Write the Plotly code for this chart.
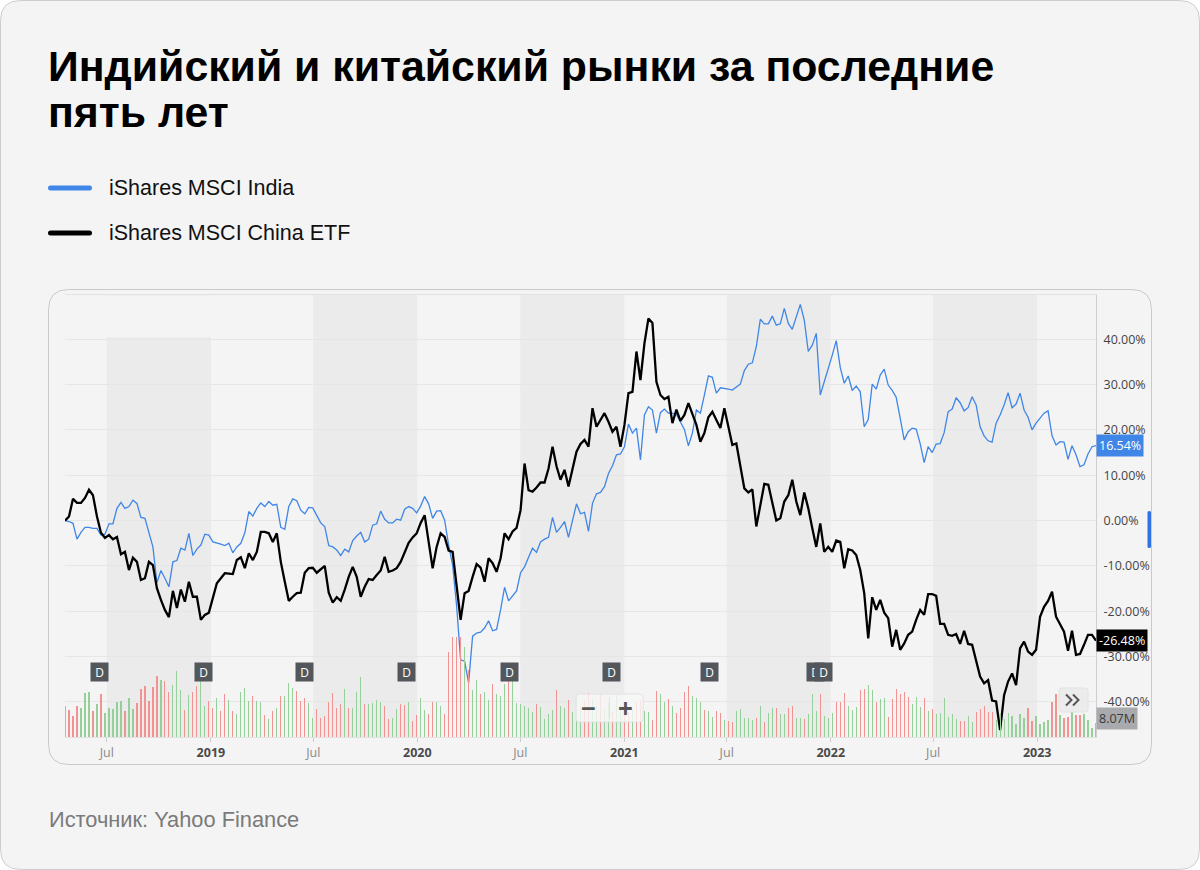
import pandas as pd
import plotly.graph_objects as go

W, H = 1200, 870

# ---------------- data ----------------
start_date, end_date, n_points = "2018-04-18", "2023-04-15", 259

india = [
    0.0, -0.2, -0.6, -4.1, -2.6, -1.5, -1.5, -1.7, -1.7, -3.2,
    -3.0, -0.7, -0.7, 2.7, 4.0, 2.7, 3.1, 4.5, 3.8, 0.7,
    0.5, -2.4, -5.8, -13.7, -11.0, -12.7, -14.6, -9.1, -8.8, -6.1,
    -6.5, -2.8, -7.7, -6.3, -5.4, -3.0, -3.2, -4.7, -4.9, -5.2,
    -5.5, -5.0, -7.1, -5.8, -5.0, -2.7, 2.0, 1.0, 2.7, 3.9,
    3.1, 4.2, 3.4, 3.6, -1.5, -1.9, 3.1, 4.8, 4.4, 2.3,
    1.5, 2.9, 2.8, 1.2, -0.5, -1.3, -5.5, -5.8, -6.5, -7.7,
    -6.3, -6.9, -4.4, -3.4, -2.6, -4.7, -4.1, -1.0, -0.7, 2.1,
    0.3, -0.5, -0.5, 0.3, 0.1, 2.5, 3.1, 2.7, 1.7, 3.2,
    5.3, 3.7, 0.5, 2.1, 2.2, 0.1, -5.4, -9.8, -18.8, -30.7,
    -31.0, -35.8, -25.5, -24.8, -24.6, -23.7, -22.1, -24.3, -24.0, -19.7,
    -14.7, -17.7, -16.6, -15.5, -11.5, -10.2, -8.1, -6.1, -7.0, -4.7,
    -4.1, -3.7, 0.7, -2.6, -1.5, -0.2, -3.7, -0.2, 3.7, 1.5,
    1.8, -2.4, 3.8, 5.9, 6.2, 7.5, 10.4, 12.1, 14.5, 14.7,
    16.3, 21.3, 19.3, 20.4, 13.4, 23.3, 25.1, 24.4, 19.3, 23.8,
    24.6, 23.7, 23.7, 23.4, 21.8, 20.1, 16.5, 19.3, 24.4, 23.7,
    27.7, 31.9, 31.6, 28.1, 29.3, 29.2, 29.0, 28.8, 29.5, 30.1,
    33.1, 34.5, 34.8, 38.4, 44.4, 43.4, 43.4, 45.1, 43.1, 43.4,
    46.8, 43.5, 42.2, 45.1, 47.7, 44.2, 37.3, 38.7, 41.3, 27.7,
    30.6, 33.2, 36.5, 39.7, 33.8, 30.3, 31.9, 28.7, 29.7, 28.4,
    20.7, 22.3, 30.1, 29.0, 32.1, 33.4, 29.9, 28.7, 27.2, 22.6,
    17.8, 19.6, 20.4, 20.2, 17.0, 12.8, 16.3, 15.0, 16.9, 17.0,
    19.4, 24.0, 24.6, 27.1, 26.0, 24.2, 24.9, 27.3, 25.5, 20.7,
    18.7, 17.6, 17.3, 21.5, 23.3, 25.5, 28.2, 24.9, 25.7, 28.1,
    24.4, 22.8, 20.0, 21.5, 22.6, 23.7, 24.2, 18.7, 16.7, 17.4,
    17.3, 13.5, 16.5, 14.5, 11.9, 12.3, 14.7, 16.3, 16.54,
]

china = [
    0.0, 0.9, 4.8, 3.9, 3.9, 5.0, 6.8, 5.6, 0.9, -2.7,
    -3.8, -3.2, -4.1, -3.6, -7.4, -6.9, -10.9, -8.2, -9.1, -13.1,
    -12.7, -9.1, -9.8, -14.9, -17.5, -19.7, -21.3, -15.5, -19.3, -15.2,
    -17.9, -13.5, -16.8, -16.8, -21.9, -20.8, -20.3, -16.8, -13.8, -12.7,
    -11.6, -11.7, -11.8, -8.7, -8.1, -10.5, -7.2, -8.7, -6.9, -2.5,
    -2.5, -2.8, -4.7, -2.8, -9.1, -13.5, -17.7, -16.8, -16.0, -15.9,
    -11.5, -10.5, -10.4, -11.5, -10.7, -10.0, -15.9, -18.1, -16.9, -17.7,
    -15.2, -12.4, -10.2, -12.4, -16.8, -14.6, -12.9, -13.1, -12.0, -11.0,
    -8.0, -11.3, -11.0, -10.5, -9.1, -6.9, -4.9, -3.7, -2.8, -0.5,
    1.2, -4.7, -10.5, -5.8, -2.8, -3.6, -6.6, -6.9, -14.2, -21.9,
    -16.0, -15.5, -12.4, -9.6, -10.4, -13.5, -8.3, -9.4, -11.3, -8.3,
    -2.8, -4.1, -2.4, -1.6, 2.3, 12.6, 6.7, 6.4, 7.3, 8.4,
    8.4, 11.5, 16.3, 12.0, 9.0, 11.2, 7.5, 11.5, 15.2, 16.9,
    17.8, 16.3, 24.8, 20.7, 22.2, 23.7, 21.8, 19.6, 20.7, 16.3,
    21.1, 28.1, 28.4, 37.3, 31.0, 39.1, 44.6, 43.6, 30.6, 27.7,
    26.8, 27.3, 21.5, 24.5, 22.0, 23.3, 25.9, 23.3, 21.1, 17.4,
    19.3, 22.8, 24.0, 22.2, 20.4, 24.8, 20.7, 16.7, 17.0, 12.3,
    7.1, 6.2, 6.9, -1.3, 3.2, 8.1, 7.9, 3.8, 0.0, 0.5,
    4.2, 5.6, 9.0, 4.2, 1.2, 6.2, 2.7, -1.7, -5.8, -0.6,
    -6.9, -5.8, -6.9, -4.4, -4.7, -10.5, -6.3, -6.6, -7.6, -10.9,
    -16.0, -26.0, -16.9, -19.7, -17.5, -20.3, -21.5, -27.8, -24.1, -28.5,
    -27.1, -25.2, -24.5, -21.9, -19.7, -20.8, -16.2, -16.2, -16.6, -22.8,
    -22.8, -25.2, -25.4, -25.0, -27.2, -24.3, -27.2, -27.4, -30.7, -34.4,
    -35.9, -35.2, -39.7, -39.9, -46.2, -38.5, -35.5, -33.7, -36.3, -28.2,
    -26.7, -28.9, -29.6, -28.5, -21.2, -19.0, -17.7, -15.7, -21.2, -23.0,
    -24.5, -28.7, -24.3, -29.6, -29.4, -27.4, -25.2, -25.2, -26.48,
]

# weekly volume, millions
volume = [
    17.7, 15.4, 12.1, 17.7, 16.9, 25.4, 25.8, 15.0, 18.8, 24.6,
    13.8, 16.9, 16.1, 20.0, 20.8, 15.0, 22.3, 16.1, 19.6, 27.7,
    29.2, 20.8, 28.8, 35.0, 33.0, 32.3, 26.1, 30.0, 38.0, 27.3,
    15.4, 24.2, 26.1, 29.2, 34.6, 18.0, 20.8, 16.5, 22.7, 15.0,
    24.6, 21.2, 15.0, 13.1, 25.8, 28.1, 20.8, 23.5, 20.8, 20.3,
    12.7, 10.4, 15.0, 16.9, 23.5, 23.5, 31.1, 28.4, 26.5, 20.8,
    22.3, 19.6, 11.1, 16.1, 10.8, 11.9, 20.0, 25.4, 16.9, 19.2,
    27.7, 16.5, 16.5, 25.8, 34.6, 19.2, 18.8, 19.6, 21.2, 20.0,
    18.0, 10.4, 11.1, 16.1, 19.2, 18.4, 20.3, 9.2, 12.7, 22.3,
    15.4, 13.4, 20.3, 20.3, 18.0,
    13.4, 49.0, 57.6, 57.6, 57.6, 51.9, 38.6, 26.9, 32.7, 24.6,
    25.9, 21.2, 30.4, 25.0, 23.5, 30.4, 33.0, 32.9, 19.6, 18.8,
    17.7, 16.9, 14.2, 19.2, 17.3, 10.5, 13.1, 15.7, 26.9, 17.7,
    16.9, 21.5, 14.4, 23.1, 17.3, 21.5, 25.4, 22.1, 17.7, 25.0,
    16.3, 20.2, 14.4, 24.6, 18.3, 20.2, 14.4, 15.4, 20.2, 21.5,
    15.0, 14.4, 9.6, 26.5, 25.0, 20.2, 21.9, 18.0, 13.8, 16.5,
    25.8, 29.6, 23.5, 22.3, 20.0, 15.7, 15.0, 11.5, 15.0, 13.8,
    10.0, 9.2, 8.5, 15.0, 16.1, 10.8, 10.8, 10.0, 10.8, 17.7,
    8.8, 13.8, 16.5, 16.5, 13.1, 13.1, 16.5, 18.0, 11.1, 11.1,
    10.4, 13.4, 24.6, 15.0, 24.6, 11.9, 11.1, 13.8, 20.0,
    20.0, 25.4, 17.7, 15.4, 17.3, 27.3, 27.7, 29.8, 27.3, 20.2,
    21.9, 22.7, 11.5, 21.9, 27.7, 25.0, 25.8, 23.1, 19.2, 23.1,
    17.3, 22.7, 15.0, 16.1, 13.1, 13.8, 22.7, 11.5, 13.1, 10.4,
    9.2, 9.2, 11.9, 8.6, 14.2, 16.1, 17.7, 14.2, 14.4, 9.6,
    13.8, 10.4, 13.8, 11.9, 7.7, 13.1, 11.1, 16.9, 9.2, 11.9,
    7.7, 8.8, 9.6, 20.0, 24.6, 12.7, 11.1, 11.5, 15.0, 12.7,
    12.7, 13.1, 10.0, 5.0, 8.07,
]

# G = up week, R = down week
volume_dir = (
    "GRRRGGGRGR" "GGGGGRGGRR" "RRRRGRRGGG" "RGRRGGRRGR" "RGRGGGGRGG"
    "RGRGRGGGRR" "RGGRRRRRRR" "GRGGGRGGGG" "RRGGRRGRRG" "GRRGG"
    "RRRRRGRGGR" "GGRGGGRGGG" "GGGRGGGGRG" "GRGGGRRGGR" "GGRGGRRGRR"
    "GGRRGGRGRR" "RRGGGRGGRR" "GRRGGGGGRG" "RGGRGGRRGG" "RGGGRGGGR"
    "RRGGGRRGGR" "GGRRRRRRGG" "GRGRGGGGGG" "RRGGRRRRRG" "GGGGGGGRRG"
    "GGGRRGRRGR" "RGGGG"
)

dividend_dates = ["2018-06-18", "2018-12-19", "2019-06-15", "2019-12-13",
                  "2020-06-12", "2020-12-10", "2021-05-31", "2021-12-05",
                  "2021-12-20"]

y_ticks = [40, 30, 20, 10, 0, -10, -20, -30, -40]
x_tick_dates = ["2018-07-01", "2019-01-01", "2019-07-01", "2020-01-01",
                "2020-07-01", "2021-01-01", "2021-07-01", "2022-01-01",
                "2022-07-01", "2023-01-01"]
x_tick_names = ["Jul", "2019", "Jul", "2020", "Jul", "2021", "Jul", "2022",
                "Jul", "2023"]
band_ranges = [("2018-07-01", "2019-01-01"), ("2019-07-01", "2020-01-01"),
               ("2020-07-01", "2021-01-01"), ("2021-07-01", "2022-01-01"),
               ("2022-07-01", "2023-01-01")]

title_lines = ["Индийский и китайский рынки за последние", "пять лет"]
legend_names = ["iShares MSCI India", "iShares MSCI China ETF"]
source_text = "Источник: Yahoo Finance"
last_volume_label = "8.07M"

# ---------------- figure ----------------
dates = pd.date_range(start_date, end_date, periods=n_points)

BLUE = "#3f86e6"
RED = "#f09391"
GREEN = "#95cf99"

def X(px):
    return px / W

def Y(py):
    return 1 - py / H

def rrect_path(x0, y0, x1, y1, r):
    rx, ry = r / W, r / H
    a, b, c, d = X(x0), Y(y0), X(x1), Y(y1)
    return (f"M {a+rx},{b} L {c-rx},{b} Q {c},{b} {c},{b-ry} "
            f"L {c},{d+ry} Q {c},{d} {c-rx},{d} L {a+rx},{d} "
            f"Q {a},{d} {a},{d+ry} L {a},{b-ry} Q {a},{b} {a+rx},{b} Z")

fig = go.Figure()

fig.add_trace(go.Bar(
    x=dates, y=volume, yaxis="y2",
    marker=dict(color=[GREEN if c == "G" else RED for c in volume_dir], line=dict(width=0)),
    width=1.8e8, hoverinfo="skip", showlegend=False,
))
fig.add_trace(go.Scatter(
    x=dates, y=india, mode="lines", name=legend_names[0],
    line=dict(color=BLUE, width=1.3), hoverinfo="skip", showlegend=False,
))
fig.add_trace(go.Scatter(
    x=dates, y=china, mode="lines", name=legend_names[1],
    line=dict(color="#000000", width=2.3), hoverinfo="skip", showlegend=False,
))

shapes = []
# outer card
shapes.append(dict(type="path", xref="paper", yref="paper", layer="below",
                   path=rrect_path(0.5, 0.5, 1199.5, 869.5, 20),
                   fillcolor="#f4f4f4", line=dict(color="#cdcdcd", width=1)))
# chart card
shapes.append(dict(type="path", xref="paper", yref="paper", layer="below",
                   path=rrect_path(48.5, 289.5, 1151.5, 764.5, 20),
                   fillcolor="#f4f4f4", line=dict(color="#c9c9c9", width=1)))
# half-year bands
for a, b in band_ranges:
    shapes.append(dict(type="rect", xref="x", yref="y domain", x0=a, x1=b, y0=0, y1=1,
                       layer="below", fillcolor="#ebebeb", line=dict(width=0)))
# faded placeholder at top-left of the chart
shapes.append(dict(type="rect", xref="paper", yref="paper", layer="below",
                   x0=X(66), x1=X(272), y0=Y(337), y1=Y(295.5),
                   fillcolor="#f4f4f4", line=dict(width=0)))
# legend swatches
for i, col in enumerate([BLUE, "#000000"]):
    yy = 188 + 45 * i
    shapes.append(dict(type="path", xref="paper", yref="paper",
                       path=rrect_path(48, yy - 2.5, 92, yy + 2.5, 2.5),
                       fillcolor=col, line=dict(width=0)))
# zoom buttons
shapes.append(dict(type="path", xref="paper", yref="paper",
                   path=rrect_path(576, 694, 643, 722, 3),
                   fillcolor="rgba(248,248,248,0.8)", line=dict(color="#e2e2e2", width=1)))
shapes.append(dict(type="line", xref="paper", yref="paper", x0=X(609.5), x1=X(609.5),
                   y0=Y(697), y1=Y(719), line=dict(color="#e2e2e2", width=1)))
# scroll ">>" button
shapes.append(dict(type="path", xref="paper", yref="paper",
                   path=rrect_path(1059, 688, 1088, 712, 3),
                   fillcolor="#ececec", line=dict(color="#e2e2e2", width=1)))
for dx in (0, 7):
    shapes.append(dict(type="path", xref="paper", yref="paper",
                       path=f"M {X(1066+dx)},{Y(694.5)} L {X(1071.5+dx)},{Y(700)} L {X(1066+dx)},{Y(705.5)}",
                       line=dict(color="#555555", width=2)))
# blue scroll marker at right edge
shapes.append(dict(type="path", xref="paper", yref="paper",
                   path=rrect_path(1147.5, 511, 1151, 548, 1.5),
                   fillcolor="#2f72e4", line=dict(width=0)))

ann = []
ann.append(dict(text=f"<b>{title_lines[0]}</b>", x=X(46), y=Y(66), xref="paper", yref="paper",
                xanchor="left", yanchor="middle", showarrow=False,
                font=dict(family="Liberation Sans", size=42.8, color="#000")))
ann.append(dict(text=f"<b>{title_lines[1]}</b>", x=X(46), y=Y(112), xref="paper", yref="paper",
                xanchor="left", yanchor="middle", showarrow=False,
                font=dict(family="Liberation Sans", size=42.8, color="#000")))
for i, name in enumerate(legend_names):
    ann.append(dict(text=name, x=X(107), y=Y(188 + 45 * i), xref="paper", yref="paper",
                    xanchor="left", yanchor="middle", showarrow=False,
                    font=dict(family="Liberation Sans", size=21.5, color="#111")))
ann.append(dict(text=source_text, x=X(47), y=Y(819), xref="paper", yref="paper",
                xanchor="left", yanchor="middle", showarrow=False,
                font=dict(family="Liberation Sans", size=21.8, color="#7a7a7a")))
# dividend markers
for d in dividend_dates:
    ann.append(dict(text="D", x=d, y=Y(672), xref="x", yref="paper", showarrow=False,
                    xanchor="center", yanchor="middle", width=13, height=14, borderpad=2,
                    bgcolor="#53575c", font=dict(family="Open Sans", size=12, color="#ffffff")))
# zoom button glyphs
ann.append(dict(text="<b>−</b>", x=X(588), y=Y(708), xref="paper", yref="paper", showarrow=False,
                xanchor="center", yanchor="middle",
                font=dict(family="Open Sans", size=26, color="#555")))
ann.append(dict(text="<b>+</b>", x=X(625), y=Y(708), xref="paper", yref="paper", showarrow=False,
                xanchor="center", yanchor="middle",
                font=dict(family="Open Sans", size=26, color="#555")))
# last value badges
ann.append(dict(text=f"{india[-1]:.2f}%", x=X(1096), y=india[-1], xref="paper", yref="y",
                xanchor="left", yanchor="middle", showarrow=False, bgcolor=BLUE, borderpad=2,
                font=dict(family="Open Sans", size=12.5, color="#ffffff")))
ann.append(dict(text=f"{china[-1]:.2f}%", x=X(1096), y=china[-1], xref="paper", yref="y",
                xanchor="left", yanchor="middle", showarrow=False, bgcolor="#000000", borderpad=2,
                font=dict(family="Open Sans", size=12.5, color="#ffffff")))
ann.append(dict(text=last_volume_label, x=X(1096), y=volume[-1], xref="paper", yref="y2",
                xanchor="left", yanchor="bottom", yshift=-7, showarrow=False, bgcolor="#a8aaae",
                borderpad=2, font=dict(family="Open Sans", size=12.5, color="#3a3a3a")))

tick_text = []
for n in x_tick_names:
    if n == "Jul":
        tick_text.append(f'<span style="color:#8a8a8a">{n}</span>')
    else:
        tick_text.append(f'<b>{n}</b>')

fig.update_layout(
    width=W, height=H, autosize=False,
    margin=dict(l=0, r=0, t=0, b=0),
    paper_bgcolor="#ffffff", plot_bgcolor="rgba(0,0,0,0)",
    showlegend=False, shapes=shapes, annotations=ann,
    bargap=0,
    xaxis=dict(domain=[X(65), X(1096)], range=[dates[0], dates[-1]], type="date",
               showgrid=False, zeroline=False, tickmode="array",
               tickvals=x_tick_dates, ticktext=tick_text, ticks="outside", ticklen=4,
               tickcolor="#cccccc", showline=True, linecolor="#e2e2e2", mirror=True,
               tickfont=dict(family="Open Sans", size=12.5, color="#4a4a4a")),
    yaxis=dict(domain=[1 - 737 / H, 1 - 295 / H], range=[-47.73, 49.76], side="right",
               tickmode="array", tickvals=y_ticks, ticktext=[f"{v:.2f}%" for v in y_ticks],
               showgrid=True, gridcolor="#e6e6e6", gridwidth=1, zeroline=False,
               showline=True, linecolor="#cfcfcf", ticks="", ticklabelstandoff=4,
               tickfont=dict(family="Open Sans", size=12.5, color="#444")),
    yaxis2=dict(domain=[1 - 737 / H, 1 - 295 / H], range=[0, 254.8], overlaying="y",
                visible=False, fixedrange=True),
)

fig.write_html(
    "out.html",
    config={"displayModeBar": False, "staticPlot": True},
    post_script="document.body.style.margin='0';document.body.style.overflow='hidden';",
)
